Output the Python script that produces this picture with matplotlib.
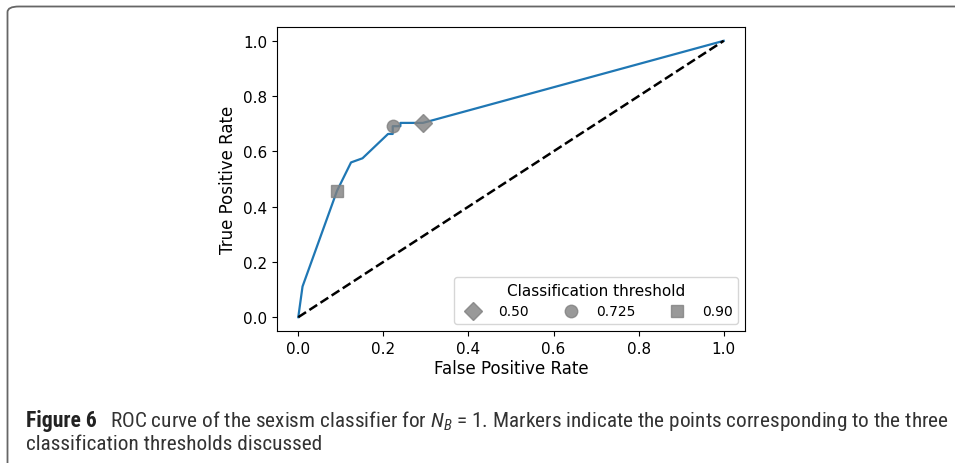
import matplotlib
matplotlib.use('Agg')
import matplotlib.pyplot as plt
from matplotlib import font_manager
from matplotlib.patches import FancyBboxPatch

# ROC curve points
fpr = [0.0, 0.010, 0.091, 0.124, 0.151, 0.211, 0.222, 0.222, 0.240, 0.240, 0.293, 1.0]
tpr = [0.0, 0.111, 0.457, 0.560, 0.575, 0.663, 0.663, 0.691, 0.691, 0.703, 0.703, 1.0]

# threshold markers
thr_labels = ['0.50', '0.725', '0.90']
thr_markers = ['D', 'o', 's']
thr_fpr = [0.293, 0.222, 0.091]
thr_tpr = [0.703, 0.691, 0.457]


def weight_num(w):
    if isinstance(w, int):
        return w
    return font_manager.weight_dict.get(str(w).lower(), 400)


# pick a narrow font (with a regular weight) for the caption if one is installed
fonts = font_manager.fontManager.ttflist
regular = set()
italic = set()
for f in fonts:
    if f.style == 'normal' and 300 <= weight_num(f.weight) <= 500:
        regular.add(f.name)
    if f.style in ('italic', 'oblique') and weight_num(f.weight) <= 500:
        italic.add(f.name)

cap_family = 'Lato'
semi = [n for n in regular if 'SemiCondensed' in n or 'Semi Condensed' in n]
narrow = [n for n in regular if ('Condensed' in n or 'Narrow' in n) and 'Semi' not in n
          and 'Extra' not in n]
found = False
for group in (semi, narrow):
    for pref in ['Open Sans', 'Noto Sans', 'Roboto', 'Liberation Sans', 'DejaVu Sans']:
        hits = [n for n in group if n.startswith(pref)]
        if hits:
            cap_family = sorted(hits)[0]
            found = True
            break
    if found:
        break

it_family = cap_family if cap_family in italic else 'Lato'
plt.rcParams['font.size'] = 12
plt.rcParams['xtick.labelsize'] = 11
plt.rcParams['ytick.labelsize'] = 11
plt.rcParams['mathtext.fontset'] = 'custom'
plt.rcParams['mathtext.it'] = it_family + ':italic'
plt.rcParams['mathtext.rm'] = cap_family
fig = plt.figure(figsize=(9.55, 4.64), dpi=100)

# rounded frame around the figure
frame = FancyBboxPatch((7.5 / 955, -0.2), 1.2, 1 - 7.5 / 464 + 0.2,
                       boxstyle='round,pad=0,rounding_size=0.012',
                       transform=fig.transFigure, fill=False,
                       edgecolor='#666666', linewidth=1.3, clip_on=False)
fig.patches.append(frame)

ax = fig.add_axes([277 / 955, 1 - 332 / 464, (745 - 277) / 955, (332 - 28) / 464])
ax.plot(fpr, tpr, color='#1f77b4', lw=1.6)
ax.plot([0, 1], [0, 1], 'k--', lw=1.8)
for lab, m, x, y in zip(thr_labels, thr_markers, thr_fpr, thr_tpr):
    ax.plot(x, y, marker=m, color='gray', alpha=0.8, ms=9, ls='none', label=lab)

ax.set_xlim(-0.05, 1.05)
ax.set_ylim(-0.05, 1.05)
ax.set_xlabel('False Positive Rate', labelpad=2)
ax.set_ylabel('True Positive Rate', labelpad=4)
ax.legend(title='Classification threshold', loc='lower right', ncol=3,
          fontsize=10, title_fontsize=11)

# caption
cap = 12
y1 = 1 - 421 / 464
t1 = fig.text(26 / 955, y1, 'Figure 6', family=cap_family, weight='bold',
              fontsize=cap, va='center', ha='left', color='#222222')
t2 = fig.text(110 / 955, y1,
              'ROC curve of the sexism classifier for $N_B$ = 1. Markers indicate the points '
              'corresponding to the three', family=cap_family, weight='normal',
              fontsize=cap, va='center', ha='left', color='#333333')
t3 = fig.text(26 / 955, 1 - 445 / 464, 'classification thresholds discussed',
              family=cap_family, weight='normal', fontsize=cap,
              va='center', ha='left', color='#333333')

# fit the caption to the reference widths
r = fig.canvas.get_renderer()
s = cap * (948 - 110) / t2.get_window_extent(r).width
t2.set_fontsize(s)
t3.set_fontsize(s)
s1 = cap * (97 - 26) / t1.get_window_extent(r).width
t1.set_fontsize(min(s1, s * 1.3))

fig.savefig('out.png', dpi=100)
